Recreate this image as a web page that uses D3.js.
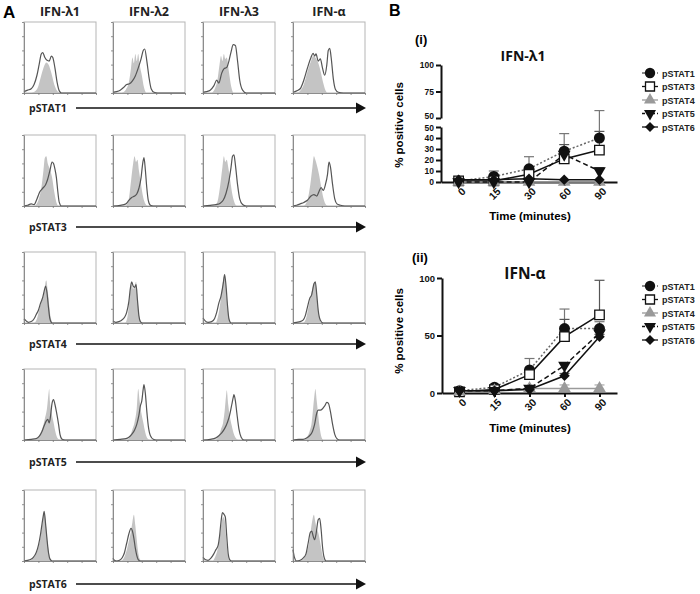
<!DOCTYPE html>
<html><head><meta charset="utf-8">
<script src="https://cdn.jsdelivr.net/npm/d3@7"></script>
<style>body{margin:0;background:#fff}svg{display:block}</style>
</head><body>
<svg id="c" width="700" height="594"></svg>
<script>
// ---------- DATA ----------
const cytokines = ["IFN-λ1","IFN-λ2","IFN-λ3","IFN-α"];
const stats = ["pSTAT1","pSTAT3","pSTAT4","pSTAT5","pSTAT6"];
// flow histograms: [channel %, count % of max] per cytokine column; ctrl = filled gray, stim = outline
const ctrlSTAT1 = [
 [[10,0],[15,2],[20,10],[24,25],[28,38],[31,43],[34,40],[38,28],[42,12],[46,3],[50,0]],
 [[12,0],[18,5],[22,15],[25,35],[27,50],[29,42],[31,55],[33,45],[35,55],[37,40],[40,25],[43,8],[46,0]],
 [[12,0],[16,5],[20,18],[23,40],[25,52],[27,45],[29,55],[31,48],[33,50],[36,30],[39,10],[42,0]],
 [[5,0],[10,3],[15,12],[20,30],[25,45],[28,52],[31,50],[34,45],[38,32],[42,14],[45,4],[48,0]]];
const stimSTAT1 = [
 [[0,2],[5,4],[10,6],[14,12],[18,25],[21,40],[24,55],[26,57],[29,50],[32,46],[35,45],[38,52],[40,50],[43,35],[46,15],[49,3],[52,0]],
 [[0,1],[5,2],[10,4],[15,8],[19,12],[23,13],[27,17],[31,24],[35,35],[39,48],[42,60],[44,62],[47,45],[50,22],[53,6],[57,1],[62,0]],
 [[0,1],[5,2],[10,4],[15,10],[19,18],[22,14],[26,28],[29,34],[33,36],[36,45],[39,58],[42,68],[45,67],[48,45],[51,18],[55,4],[60,0]],
 [[0,1],[5,3],[10,6],[15,18],[20,35],[25,50],[28,56],[30,52],[32,55],[35,45],[38,48],[41,35],[44,25],[47,40],[49,60],[51,63],[53,50],[56,20],[59,5],[63,1],[70,0]]];
const ctrlSTAT3 = [
 [[15,0],[20,8],[24,25],[27,50],[29,68],[31,70],[33,60],[36,52],[39,40],[42,20],[45,5],[48,0]],
 [[18,0],[22,10],[25,35],[28,60],[30,70],[32,62],[34,65],[36,50],[39,30],[42,12],[45,3],[48,0]],
 [[17,0],[21,10],[24,30],[27,55],[29,70],[31,62],[33,65],[35,55],[38,35],[41,15],[44,4],[47,0]],
 [[15,0],[20,8],[24,30],[27,55],[29,70],[31,65],[33,58],[36,45],[39,28],[42,12],[45,3],[48,0]]];
const stimSTAT3 = [
 [[0,0],[5,1],[10,3],[14,2],[18,10],[22,20],[26,25],[30,30],[33,38],[36,50],[39,62],[41,60],[43,52],[45,40],[47,20],[49,5],[52,0]],
 [[0,0],[10,1],[18,3],[22,8],[26,12],[30,14],[33,17],[36,25],[39,40],[41,58],[43,68],[45,50],[47,25],[49,8],[52,1],[56,0]],
 [[0,0],[10,1],[18,2],[24,4],[28,8],[32,18],[36,35],[39,55],[41,70],[43,72],[45,58],[48,30],[51,10],[55,2],[60,0]],
 [[0,0],[5,1],[10,3],[15,5],[20,8],[25,14],[29,16],[33,14],[36,20],[39,26],[42,22],[45,30],[48,45],[50,62],[52,55],[55,30],[58,10],[61,3],[66,1],[72,0]]];
const ctrlSTAT4 = [
 [[14,0],[18,6],[21,18],[24,30],[27,38],[29,50],[30,58],[31,60],[33,45],[35,25],[37,8],[40,0]],
 [[17,0],[20,8],[22,25],[24,45],[26,55],[28,48],[30,52],[32,58],[34,35],[36,12],[38,3],[40,0]],
 [[18,0],[21,10],[24,28],[26,45],[28,60],[30,66],[32,50],[34,25],[36,8],[38,0]],
 [[14,0],[18,6],[21,20],[24,35],[27,48],[29,56],[31,58],[33,42],[35,20],[37,6],[40,0]]];
const stimSTAT4 = [
 [[0,6],[3,3],[6,1],[10,2],[14,6],[17,12],[20,18],[23,28],[26,36],[28,45],[30,52],[32,42],[34,22],[36,6],[39,0]],
 [[0,3],[4,1],[8,2],[12,4],[16,8],[19,15],[22,30],[24,48],[26,58],[28,52],[30,50],[32,54],[34,32],[36,10],[38,2],[41,0]],
 [[0,7],[3,3],[7,1],[12,2],[16,6],[19,15],[22,28],[25,38],[28,55],[30,68],[32,52],[34,25],[36,6],[39,0]],
 [[0,0],[5,1],[10,2],[14,4],[17,10],[20,22],[23,34],[26,40],[29,55],[31,58],[33,40],[35,18],[38,4],[42,0]]];
const ctrlSTAT5 = [
 [[17,0],[22,8],[26,18],[29,30],[32,45],[34,65],[35,72],[36,55],[38,40],[41,25],[44,10],[47,2],[50,0]],
 [[20,0],[24,6],[27,15],[30,25],[33,45],[35,72],[37,55],[39,40],[42,25],[45,10],[48,2],[51,0]],
 [[18,0],[22,6],[25,15],[28,25],[30,40],[32,62],[33,70],[35,50],[37,35],[40,20],[43,8],[46,2],[49,0]],
 [[16,0],[20,5],[23,12],[26,25],[28,45],[30,65],[31,72],[33,55],[35,35],[37,18],[39,6],[42,0]]];
const stimSTAT5 = [
 [[0,0],[10,1],[17,2],[21,5],[25,12],[28,20],[31,27],[33,29],[35,24],[37,35],[39,52],[41,57],[43,50],[45,40],[48,22],[50,8],[53,1],[57,0]],
 [[0,0],[10,1],[18,2],[22,4],[26,8],[30,14],[33,22],[36,35],[38,48],[40,55],[42,72],[43,78],[45,65],[47,40],[49,20],[52,6],[56,1],[60,0]],
 [[0,0],[10,1],[18,3],[22,6],[26,10],[30,16],[34,25],[37,35],[40,50],[42,60],[43,64],[45,55],[47,38],[50,15],[53,4],[57,0]],
 [[0,0],[8,1],[14,1],[19,3],[23,6],[27,12],[30,22],[33,38],[35,42],[38,42],[41,44],[44,48],[47,53],[49,52],[52,40],[55,22],[58,8],[61,2],[65,0]]];
const ctrlSTAT6 = [
 [[8,0],[12,3],[16,8],[20,20],[23,35],[25,50],[27,65],[28,70],[30,55],[32,35],[34,15],[36,4],[38,0]],
 [[12,0],[16,6],[19,15],[22,28],[25,42],[27,55],[29,65],[31,50],[33,30],[35,12],[37,3],[40,0]],
 [[14,0],[17,6],[20,15],[22,25],[24,40],[26,55],[28,62],[30,58],[32,35],[34,12],[36,2],[38,0]],
 [[12,0],[16,5],[20,15],[23,30],[25,45],[27,58],[29,65],[31,55],[33,45],[35,40],[38,25],[41,8],[44,0]]];
const stimSTAT6 = [
 [[0,0],[5,1],[9,2],[13,5],[17,12],[20,22],[23,38],[25,52],[27,65],[28,70],[30,52],[32,30],[34,12],[36,3],[39,0]],
 [[0,4],[2,1],[5,0],[9,1],[13,5],[16,12],[19,25],[22,38],[25,46],[27,42],[29,32],[31,18],[33,8],[35,2],[38,0]],
 [[0,5],[3,2],[7,1],[11,4],[15,10],[18,16],[21,22],[23,35],[25,55],[27,68],[29,66],[31,62],[33,35],[35,10],[37,2],[40,0]],
 [[0,16],[2,5],[5,0],[10,1],[14,4],[18,10],[21,25],[24,40],[26,42],[28,35],[30,30],[32,38],[35,58],[37,60],[39,45],[41,20],[43,6],[46,0]]];

// time course (% positive cells) and upper SD
const timeLabels = ["0","15","30","60","90"];
const lam1_STAT1 = [1,5,12,28,40],  lam1_STAT1_sd = [1,5,11,16,17];
const lam1_STAT3 = [1,1,7,21,29],   lam1_STAT3_sd = [0,1,2,13,17];
const lam1_STAT4 = [0,0,0,0,0],     lam1_STAT4_sd = [1,1,1,1,1];
const lam1_STAT5 = [0,0,0,25,10],   lam1_STAT5_sd = [0,0,0,3,3];
const lam1_STAT6 = [2,2,3,2,2],     lam1_STAT6_sd = [0,0,0,0,0];
const alpha_STAT1 = [2,5,20,56,56], alpha_STAT1_sd = [0,2,10,17,6];
const alpha_STAT3 = [1,3,16,49,68], alpha_STAT3_sd = [0,1,3,15,30];
const alpha_STAT4 = [1,2,4,4,4],    alpha_STAT4_sd = [0,0,1,3,3];
const alpha_STAT5 = [2,2,4,24,52],  alpha_STAT5_sd = [0,0,0,2,2];
const alpha_STAT6 = [2,2,3,15,49],  alpha_STAT6_sd = [0,0,0,2,2];
const lowerTicks = [0,10,20,30,40,50], upperTicks = [50,75,100], alphaTicks = [0,50,100];

// ---------- DRAW ----------
const svg = d3.select("#c");
const FS = "'Liberation Sans', Arial, sans-serif";
const FC = "'Open Sans', 'Noto Sans', sans-serif";

svg.append("text").attr("x",3).attr("y",18).attr("font-family",FS).attr("font-weight","bold").attr("font-size",17).text("A");
svg.append("text").attr("x",389).attr("y",16).attr("font-family",FS).attr("font-weight","bold").attr("font-size",16).text("B");

// Panel A
const colX = [24,113,203,293], rowY = [22,135,252,369,490], arrowY = [108,227,344,462,584];
const bw = 72, bh = 71;
const ctrlAll = [ctrlSTAT1,ctrlSTAT3,ctrlSTAT4,ctrlSTAT5,ctrlSTAT6];
const stimAll = [stimSTAT1,stimSTAT3,stimSTAT4,stimSTAT5,stimSTAT6];
const hx = d3.scaleLinear().domain([0,100]).range([0,bw]);
const hy = d3.scaleLinear().domain([0,100]).range([bh,0]);
const harea = d3.area().x(d=>hx(d[0])).y0(hy(0)).y1(d=>hy(d[1])).curve(d3.curveMonotoneX);
const hline = d3.line().x(d=>hx(d[0])).y(d=>hy(d[1])).curve(d3.curveMonotoneX);

cytokines.forEach((c,j)=>{
  svg.append("text").attr("x",colX[j]+bw/2).attr("y",16).attr("text-anchor","middle")
    .attr("font-family",FC).attr("font-weight","bold").attr("font-size",12.5).attr("fill","#222").text(c);
});
stats.forEach((s,i)=>{
  cytokines.forEach((c,j)=>{
    const g = svg.append("g").attr("transform",`translate(${colX[j]},${rowY[i]})`);
    g.append("rect").attr("x",0).attr("y",0).attr("width",bw).attr("height",bh)
      .attr("fill","none").attr("stroke","#b5b5b5").attr("stroke-width",1);
    g.append("path").attr("d",harea(ctrlAll[i][j])).attr("fill","#c4c4c4");
    const st = stimAll[i][j].concat([[100,0]]);
    g.append("path").attr("d",hline(st)).attr("fill","none").attr("stroke","#555").attr("stroke-width",1.2);
    const ay = g.append("g").call(d3.axisLeft(hy).ticks(5).tickSize(2).tickFormat("").tickSizeOuter(0));
    ay.selectAll("path,line").attr("stroke","#777").attr("stroke-width",0.8);
    const ax = g.append("g").attr("transform",`translate(0,${bh})`)
      .call(d3.axisBottom(hx).ticks(5).tickSize(2).tickFormat("").tickSizeOuter(0));
    ax.selectAll("path,line").attr("stroke","#777").attr("stroke-width",0.8);
  });
  svg.append("text").attr("x",29).attr("y",arrowY[i]+4).attr("font-family",FC).attr("font-weight","bold")
    .attr("font-size",10.5).attr("fill","#222").text(s);
  svg.append("line").attr("x1",76).attr("x2",357).attr("y1",arrowY[i]).attr("y2",arrowY[i])
    .attr("stroke","#111").attr("stroke-width",1.5);
  svg.append("path").attr("d",`M356,${arrowY[i]-5.5}L366,${arrowY[i]}L356,${arrowY[i]+5.5}Z`).attr("fill","#111");
});

// Panel B
const seriesStyle = [
  {name:"pSTAT1", stroke:"#666", dash:"2,2", sym:d3.symbolCircle, size:95, fill:"#111", sstroke:"none", rot:0, err:"#777"},
  {name:"pSTAT3", stroke:"#111", dash:null, sym:d3.symbolSquare, size:90, fill:"#fff", sstroke:"#111", rot:0, err:"#555"},
  {name:"pSTAT4", stroke:"#9a9a9a", dash:null, sym:d3.symbolTriangle, size:70, fill:"#9a9a9a", sstroke:"none", rot:0, err:"#aaa"},
  {name:"pSTAT5", stroke:"#111", dash:"5,3", sym:d3.symbolTriangle, size:70, fill:"#111", sstroke:"none", rot:180, err:"#555"},
  {name:"pSTAT6", stroke:"#111", dash:null, sym:d3.symbolSquare, size:55, fill:"#111", sstroke:"none", rot:45, err:"#555"}
];

function panelB(opt){
  const x = d3.scalePoint().domain(timeLabels).range([opt.x0,opt.x1]).padding(0.5);
  const y = opt.y;
  const g = svg.append("g");
  // axes
  opt.yAxes.forEach(a=>{
    const ag = g.append("g").attr("transform",`translate(${opt.x0},0)`)
      .call(d3.axisLeft(a.scale).tickValues(a.ticks).tickSize(5).tickSizeOuter(0).tickPadding(2));
    ag.selectAll("path,line").attr("stroke","#111").attr("stroke-width",2);
    ag.selectAll("text").attr("font-family",FS).attr("font-weight","bold").attr("font-size",opt.yFont).attr("fill","#111");
    if (a.shift) ag.selectAll("text").filter(d=>d===50).attr("transform",`translate(0,${a.shift})`);
  });
  const xg = g.append("g").attr("transform",`translate(0,${opt.base})`)
    .call(d3.axisBottom(x).tickSize(4).tickSizeOuter(0));
  xg.selectAll("path,line").attr("stroke","#111").attr("stroke-width",2);
  xg.selectAll("text").attr("font-family",FS).attr("font-weight","bold").attr("font-size",10.5).attr("fill","#111")
    .attr("text-anchor","end").attr("transform","rotate(-45)").attr("dx","-0.2em").attr("dy","0.5em");
  // titles
  g.append("text").attr("x",opt.tagX).attr("y",opt.tagY).attr("font-family",FS).attr("font-weight","bold").attr("font-size",13).text(opt.tag);
  g.append("text").attr("x",opt.titleX).attr("y",opt.titleY).attr("text-anchor","middle").attr("font-family",FC)
    .attr("font-weight","bold").attr("font-size",opt.titleSize).attr("fill","#111").text(opt.title);
  g.append("text").attr("transform",`translate(403,${opt.ylabY}) rotate(-90)`).attr("text-anchor","middle")
    .attr("font-family",FS).attr("font-weight","bold").attr("font-size",11.5).text("% positive cells");
  g.append("text").attr("x",530).attr("y",opt.xlabY).attr("text-anchor","middle")
    .attr("font-family",FS).attr("font-weight","bold").attr("font-size",11.5).text("Time (minutes)");
  // series
  const line = d3.line().x((d,k)=>x(timeLabels[k])).y(d=>y(d));
  opt.series.forEach((s,k)=>{
    const st = seriesStyle[k];
    s.vals.forEach((v,t)=>{
      if(s.sd[t]>0){
        const xx = x(timeLabels[t]);
        g.append("line").attr("x1",xx).attr("x2",xx).attr("y1",y(v)).attr("y2",y(v+s.sd[t])).attr("stroke",st.err).attr("stroke-width",1.2);
        g.append("line").attr("x1",xx-5).attr("x2",xx+5).attr("y1",y(v+s.sd[t])).attr("y2",y(v+s.sd[t])).attr("stroke",st.err).attr("stroke-width",1.2);
      }
    });
  });
  opt.series.forEach((s,k)=>{
    const st = seriesStyle[k];
    g.append("path").attr("d",line(s.vals)).attr("fill","none").attr("stroke",st.stroke)
      .attr("stroke-width",1.5).attr("stroke-dasharray",st.dash);
  });
  opt.series.forEach((s,k)=>{
    const st = seriesStyle[k];
    s.vals.forEach((v,t)=>{
      g.append("path").attr("d",d3.symbol().type(st.sym).size(st.size)())
        .attr("transform",`translate(${x(timeLabels[t])},${y(v)}) rotate(${st.rot})`)
        .attr("fill",st.fill).attr("stroke",st.sstroke).attr("stroke-width",1.3);
    });
  });
  // legend
  seriesStyle.forEach((st,k)=>{
    const ly = opt.legY + k*13.5;
    g.append("line").attr("x1",642).attr("x2",658).attr("y1",ly).attr("y2",ly).attr("stroke",st.stroke)
      .attr("stroke-width",1.3).attr("stroke-dasharray",st.dash ? "3,2" : null);
    g.append("path").attr("d",d3.symbol().type(st.sym).size(st.size*0.9)())
      .attr("transform",`translate(650,${ly}) rotate(${st.rot})`)
      .attr("fill",st.fill).attr("stroke",st.sstroke).attr("stroke-width",1.3);
    g.append("text").attr("x",662).attr("y",ly+3.5).attr("font-family",FS).attr("font-weight","bold")
      .attr("font-size",9).attr("fill","#222").text(st.name);
  });
}

// (i) broken axis
const yLow = d3.scaleLinear().domain([0,50]).range([182,127]);
const yHigh = d3.scaleLinear().domain([50,100]).range([118,65]);
panelB({
  x0:441, x1:617, base:182, yFont:8.5,
  y: v => v<=50 ? yLow(v) : yHigh(v),
  yAxes:[{scale:yLow,ticks:lowerTicks,shift:1},{scale:yHigh,ticks:upperTicks,shift:-2.5}],
  tag:"(i)", tagX:415, tagY:44, title:"IFN-λ1", titleX:523, titleY:61, titleSize:14,
  ylabY:125, xlabY:220, legY:73,
  series:[{vals:lam1_STAT1,sd:lam1_STAT1_sd},{vals:lam1_STAT3,sd:lam1_STAT3_sd},{vals:lam1_STAT4,sd:lam1_STAT4_sd},
          {vals:lam1_STAT5,sd:lam1_STAT5_sd},{vals:lam1_STAT6,sd:lam1_STAT6_sd}]
});
// (ii)
const yA = d3.scaleLinear().domain([0,100]).range([393,278]);
panelB({
  x0:442, x1:617, base:393, yFont:9.5,
  y: v => yA(v),
  yAxes:[{scale:yA,ticks:alphaTicks}],
  tag:"(ii)", tagX:412, tagY:262, title:"IFN-α", titleX:525, titleY:279, titleSize:15.5,
  ylabY:331, xlabY:432, legY:286,
  series:[{vals:alpha_STAT1,sd:alpha_STAT1_sd},{vals:alpha_STAT3,sd:alpha_STAT3_sd},{vals:alpha_STAT4,sd:alpha_STAT4_sd},
          {vals:alpha_STAT5,sd:alpha_STAT5_sd},{vals:alpha_STAT6,sd:alpha_STAT6_sd}]
});
</script>
</body></html>
